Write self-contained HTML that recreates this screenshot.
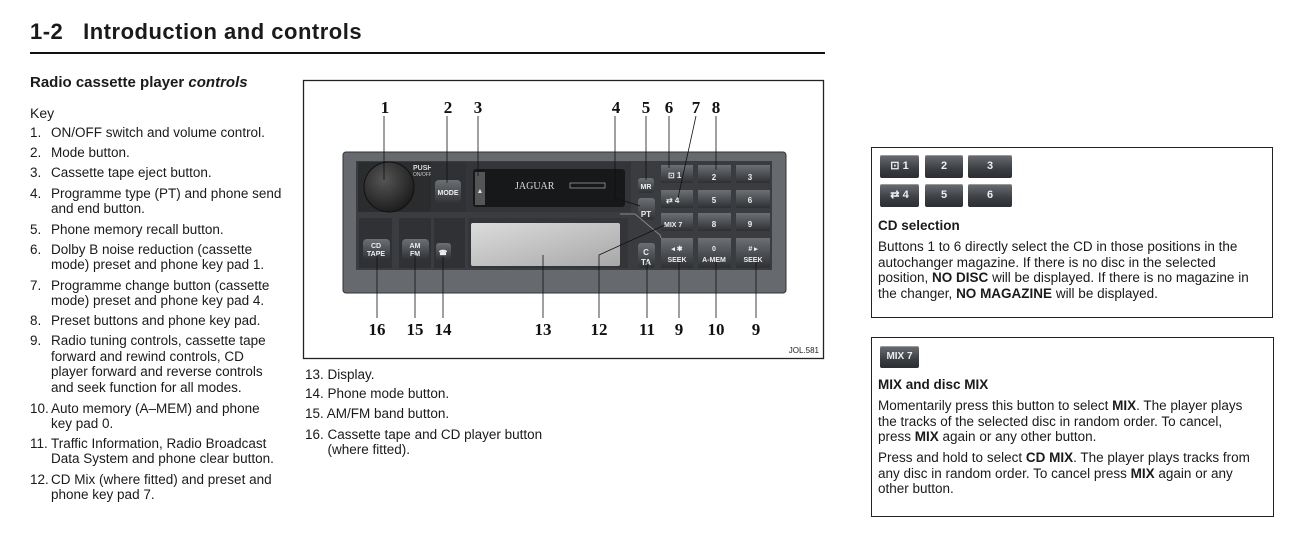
<!DOCTYPE html>
<html><head><meta charset="utf-8"><style>
body{margin:0;width:1307px;height:560px;background:#fff;position:relative;overflow:hidden;font-family:"Liberation Sans",sans-serif;color:#1a1a1a}
.t{position:absolute;font-size:13.5px;white-space:nowrap;line-height:15px}
.n{position:absolute;font-size:13.5px;white-space:nowrap;line-height:15px}
b{font-weight:bold}
.box{position:absolute;border:1.3px solid #222}
.btn{position:absolute;background:linear-gradient(#6a6e72,#3b3e42 60%,#2c2e31);color:#eee;font-weight:bold;font-size:11px;border-radius:2px;box-shadow:inset 0 1px 0 #999;text-align:center;line-height:23px}
</style></head><body>
<div style="position:absolute;left:30px;top:19px;font-size:22px;font-weight:bold;letter-spacing:0.5px">1-2&nbsp;&nbsp; Introduction and controls</div>
<div style="position:absolute;left:30px;top:52px;width:795px;height:2px;background:#111"></div>
<div style="position:absolute;left:30px;top:74px;font-size:15px;font-weight:bold">Radio cassette player <i>controls</i></div>
<div class="t" style="left:30px;top:106px;font-size:14px">Key</div>

<div class="n" style="left:30px;top:125px">1.</div><div class="t" style="left:51px;top:125px">ON/OFF switch and volume control.</div>
<div class="n" style="left:30px;top:145px">2.</div><div class="t" style="left:51px;top:145px">Mode button.</div>
<div class="n" style="left:30px;top:165px">3.</div><div class="t" style="left:51px;top:165px">Cassette tape eject button.</div>
<div class="n" style="left:30px;top:186px">4.</div><div class="t" style="left:51px;top:186px">Programme type (PT) and phone send<br>and end button.</div>
<div class="n" style="left:30px;top:222px">5.</div><div class="t" style="left:51px;top:222px">Phone memory recall button.</div>
<div class="n" style="left:30px;top:242px">6.</div><div class="t" style="left:51px;top:242px">Dolby B noise reduction (cassette<br>mode) preset and phone key pad 1.</div>
<div class="n" style="left:30px;top:278px">7.</div><div class="t" style="left:51px;top:278px">Programme change button (cassette<br>mode) preset and phone key pad 4.</div>
<div class="n" style="left:30px;top:313px">8.</div><div class="t" style="left:51px;top:313px">Preset buttons and phone key pad.</div>
<div class="n" style="left:30px;top:333px">9.</div><div class="t" style="left:51px;top:333px;line-height:15.6px">Radio tuning controls, cassette tape<br>forward and rewind controls, CD<br>player forward and reverse controls<br>and seek function for all modes.</div>
<div class="n" style="left:30px;top:401px">10.</div><div class="t" style="left:51px;top:401px">Auto memory (A–MEM) and phone<br>key pad 0.</div>
<div class="n" style="left:30px;top:436px">11.</div><div class="t" style="left:51px;top:436px">Traffic Information, Radio Broadcast<br>Data System and phone clear button.</div>
<div class="n" style="left:30px;top:472px">12.</div><div class="t" style="left:51px;top:472px">CD Mix (where fitted) and preset and<br>phone key pad 7.</div>

<div class="t" style="left:305px;top:367px">13. Display.</div>
<div class="t" style="left:305px;top:386px">14. Phone mode button.</div>
<div class="t" style="left:305px;top:406px">15. AM/FM band button.</div>
<div class="t" style="left:305px;top:427px">16. Cassette tape and CD player button<br>&nbsp;&nbsp;&nbsp;&nbsp;&nbsp;&nbsp;(where fitted).</div>

<svg style="position:absolute;left:0;top:0" width="1307" height="560">
<defs>
<linearGradient id="g" x1="0" y1="0" x2="0" y2="1"><stop offset="0" stop-color="#6c7074"/><stop offset="1" stop-color="#2e3033"/></linearGradient>
<radialGradient id="k" cx="0.4" cy="0.35" r="0.7"><stop offset="0" stop-color="#555"/><stop offset="1" stop-color="#1a1a1a"/></radialGradient>
<linearGradient id="d" x1="0" y1="0" x2="1" y2="1"><stop offset="0" stop-color="#dcdcdc"/><stop offset="1" stop-color="#a8a8a8"/></linearGradient>
</defs>
<rect x="303.5" y="80.5" width="520" height="278" fill="none" stroke="#222" stroke-width="1.3"/>
<rect x="343" y="152" width="443" height="141" rx="3" fill="#666a6e" stroke="#333"/>
<rect x="356" y="161" width="416" height="109" fill="#3a3c3f"/>
<rect x="358" y="162" width="73" height="50" fill="#2a2c2e"/>
<circle cx="389" cy="187" r="25" fill="url(#k)" stroke="#111"/>
<text x="413" y="170" font-size="7" fill="#ddd" font-weight="bold" font-family="Liberation Sans">PUSH</text>
<text x="413" y="176" font-size="5" fill="#ccc" font-family="Liberation Sans">ON/OFF</text>
<rect x="431" y="162" width="35" height="50" fill="#2f3134"/>
<rect x="435" y="180" width="26" height="24" rx="4" fill="url(#g)"/>
<text x="448" y="195" font-size="7" fill="#eee" font-weight="bold" text-anchor="middle" font-family="Liberation Sans">MODE</text>
<rect x="466" y="162" width="165" height="50" fill="#333538"/>
<rect x="473" y="169" width="152" height="38" rx="3" fill="#17181a"/>
<rect x="475" y="172" width="10" height="33" fill="#555"/>
<text x="480" y="193" font-size="7" fill="#ddd" text-anchor="middle">▲</text>
<text x="515" y="189" font-size="10" fill="#ddd" font-family="Liberation Serif">JAGUAR</text>
<rect x="570" y="183" width="35" height="5" fill="none" stroke="#aaa" stroke-width="0.7"/>
<rect x="638" y="178" width="16" height="15" rx="3" fill="url(#g)"/>
<text x="646" y="189" font-size="7" fill="#eee" font-weight="bold" text-anchor="middle" font-family="Liberation Sans">MR</text>
<rect x="638" y="198" width="17" height="22" rx="3" fill="url(#g)"/>
<text x="646" y="217" font-size="8" fill="#eee" font-weight="bold" text-anchor="middle" font-family="Liberation Sans">PT</text>
<g font-family="Liberation Sans" font-weight="bold" fill="#eee" font-size="8">
<rect x="661" y="165" width="32" height="18" fill="url(#g)"/><rect x="698" y="165" width="33" height="18" fill="url(#g)"/><rect x="736" y="165" width="34" height="18" fill="url(#g)"/>
<rect x="661" y="190" width="32" height="18" fill="url(#g)"/><rect x="698" y="190" width="33" height="18" fill="url(#g)"/><rect x="736" y="190" width="34" height="18" fill="url(#g)"/>
<rect x="661" y="213" width="32" height="18" fill="url(#g)"/><rect x="698" y="213" width="33" height="18" fill="url(#g)"/><rect x="736" y="213" width="34" height="18" fill="url(#g)"/>
<rect x="661" y="238" width="32" height="30" fill="url(#g)"/><rect x="698" y="238" width="33" height="30" fill="url(#g)"/><rect x="736" y="238" width="34" height="30" fill="url(#g)"/>
<rect x="638" y="243" width="17" height="25" rx="3" fill="url(#g)"/>
<text x="668" y="178">⊡ 1</text><text x="714" y="180" text-anchor="middle">2</text><text x="750" y="180" text-anchor="middle">3</text>
<text x="666" y="203">⇄ 4</text><text x="714" y="203" text-anchor="middle">5</text><text x="750" y="203" text-anchor="middle">6</text>
<text x="664" y="227" font-size="7">MIX 7</text><text x="714" y="227" text-anchor="middle">8</text><text x="750" y="227" text-anchor="middle">9</text>
<text x="677" y="251" text-anchor="middle" font-size="7">◂ ✱</text><text x="677" y="262" text-anchor="middle" font-size="7">SEEK</text>
<text x="714" y="251" text-anchor="middle" font-size="7">0</text><text x="714" y="262" text-anchor="middle" font-size="7">A-MEM</text>
<text x="753" y="251" text-anchor="middle" font-size="7"># ▸</text><text x="753" y="262" text-anchor="middle" font-size="7">SEEK</text>
<text x="646" y="255" text-anchor="middle">C</text><text x="646" y="265" text-anchor="middle">TA</text>
</g>
<rect x="359" y="218" width="33" height="50" fill="#2f3134"/>
<rect x="399" y="218" width="32" height="50" fill="#2f3134"/>
<rect x="434" y="218" width="31" height="50" fill="#2f3134"/>
<rect x="363" y="239" width="27" height="21" rx="4" fill="url(#g)"/>
<rect x="402" y="239" width="27" height="21" rx="4" fill="url(#g)"/>
<rect x="436" y="243" width="15" height="17" rx="3" fill="url(#g)"/>
<g font-family="Liberation Sans" font-weight="bold" fill="#eee" font-size="7" text-anchor="middle">
<text x="376" y="248">CD</text><text x="376" y="256">TAPE</text><text x="415" y="248">AM</text><text x="415" y="256">FM</text><text x="443" y="255">☎</text>
</g>
<rect x="468" y="218" width="160" height="50" fill="#333538"/>
<rect x="471" y="223" width="149" height="43" rx="2" fill="url(#d)"/>
<path d="M620 214 L635 214 L660 235 L661 238" fill="none" stroke="#888" stroke-width="1"/>
<g stroke="#111" stroke-width="0.8" fill="none">
<line x1="384" y1="116" x2="384" y2="180"/><line x1="447" y1="116" x2="447" y2="183"/><line x1="478" y1="116" x2="478" y2="176"/>
<polyline points="615,116 615,198 640,206"/><line x1="646" y1="116" x2="646" y2="180"/><line x1="669" y1="116" x2="669" y2="168"/>
<line x1="696" y1="116" x2="678" y2="198"/><line x1="716" y1="116" x2="716" y2="170"/>
<line x1="377" y1="255" x2="377" y2="318"/><line x1="415" y1="255" x2="415" y2="318"/><line x1="443" y1="257" x2="443" y2="318"/>
<line x1="543" y1="255" x2="543" y2="318"/><polyline points="599,318 599,255 665,225"/><line x1="647" y1="262" x2="647" y2="318"/>
<line x1="679" y1="262" x2="679" y2="318"/><line x1="716" y1="262" x2="716" y2="318"/><line x1="756" y1="262" x2="756" y2="318"/>
</g>
<g font-family="Liberation Serif" font-weight="bold" font-size="17" fill="#111" text-anchor="middle">
<text x="385" y="113">1</text><text x="448" y="113">2</text><text x="478" y="113">3</text><text x="616" y="113">4</text><text x="646" y="113">5</text><text x="669" y="113">6</text><text x="696" y="113">7</text><text x="716" y="113">8</text>
<text x="377" y="335">16</text><text x="415" y="335">15</text><text x="443" y="335">14</text><text x="543" y="335">13</text><text x="599" y="335">12</text><text x="647" y="335">11</text><text x="679" y="335">9</text><text x="716" y="335">10</text><text x="756" y="335">9</text>
</g>
<text x="819" y="353" font-family="Liberation Sans" font-size="8" fill="#222" text-anchor="end">JOL.581</text>
</svg>

<div class="box" style="left:871px;top:147px;width:400px;height:169px"></div>
<div class="btn" style="left:880px;top:155px;width:39px;height:23px">⊡ 1</div>
<div class="btn" style="left:925px;top:155px;width:38px;height:23px">2</div>
<div class="btn" style="left:968px;top:155px;width:44px;height:23px">3</div>
<div class="btn" style="left:880px;top:184px;width:39px;height:23px">⇄ 4</div>
<div class="btn" style="left:925px;top:184px;width:38px;height:23px">5</div>
<div class="btn" style="left:968px;top:184px;width:44px;height:23px">6</div>
<div class="t" style="left:878px;top:218px;font-weight:bold">CD selection</div>
<div class="t" style="left:878px;top:239px;line-height:15.6px">Buttons 1 to 6 directly select the CD in those positions in the<br>autochanger magazine. If there is no disc in the selected<br>position, <b>NO DISC</b> will be displayed. If there is no magazine in<br>the changer, <b>NO MAGAZINE</b> will be displayed.</div>

<div class="box" style="left:871px;top:337px;width:401px;height:178px"></div>
<div class="btn" style="left:880px;top:346px;width:39px;height:22px;font-size:10px;line-height:22px">MIX 7</div>
<div class="t" style="left:878px;top:377px;font-weight:bold">MIX and disc MIX</div>
<div class="t" style="left:878px;top:398px;line-height:15.6px">Momentarily press this button to select <b>MIX</b>. The player plays<br>the tracks of the selected disc in random order. To cancel,<br>press <b>MIX</b> again or any other button.</div>
<div class="t" style="left:878px;top:450px;line-height:15.6px">Press and hold to select <b>CD MIX</b>. The player plays tracks from<br>any disc in random order. To cancel press <b>MIX</b> again or any<br>other button.</div>
</body></html>
